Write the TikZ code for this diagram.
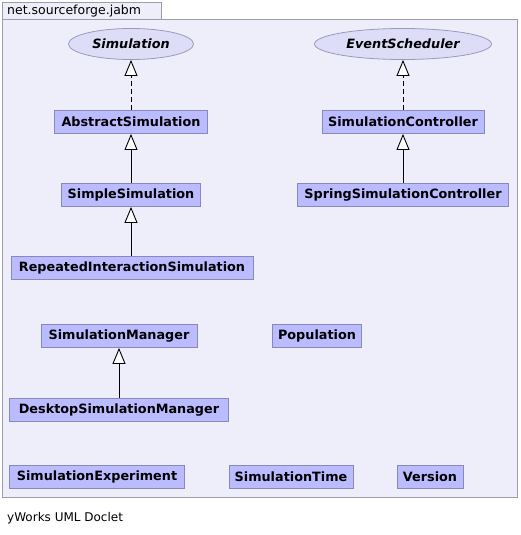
\documentclass[tikz,border=0pt]{standalone}
\usepackage{fontspec}
\setmainfont{DejaVu Sans}
\usetikzlibrary{arrows.meta,shapes.geometric}
\definecolor{pkgfill}{HTML}{EEEEFA}
\definecolor{pkgline}{HTML}{9C9CAC}
\definecolor{clsfill}{HTML}{BBBBFF}
\definecolor{clsline}{HTML}{8888BB}
\definecolor{ifill}{HTML}{DDDDF8}
\definecolor{iline}{HTML}{9999BB}
\tikzset{
  cls/.style={draw=clsline, fill=clsfill, line width=0.8pt, inner sep=0pt, minimum height=23pt, font=\fontsize{12.8}{14}\selectfont\bfseries},
  iface/.style={ellipse, draw=iline, fill=ifill, line width=0.8pt, inner sep=0pt, minimum height=31pt, font=\fontsize{12.8}{14}\selectfont\bfseries\itshape},
  gen/.style={-{Triangle[open, length=16pt, width=13pt, fill=white]}, line width=0.9pt, black},
  real/.style={gen, dash pattern=on 5pt off 3pt},
}
\begin{document}
\begin{tikzpicture}[x=1pt,y=-1pt]
\useasboundingbox (0,0) rectangle (520,535);
\fill[white] (0,0) rectangle (520,535);
% package frame
\draw[pkgline, fill=pkgfill, line width=0.8pt] (2,2) rectangle (161,19);
\draw[pkgline, fill=pkgfill, line width=0.8pt] (2,19) rectangle (517,497);
\node[anchor=west, inner sep=0pt, font=\fontsize{12.5}{14}\selectfont] (pkg) at (7,11) {net.sourceforge.jabm};
% interfaces
\node[iface, minimum width=125pt] (sim) at (131,44) {Simulation};
\node[iface, minimum width=177pt] (evs) at (403,44) {EventScheduler};
% classes
\node[cls, minimum width=153pt] (abs) at (131,122) {AbstractSimulation};
\node[cls, minimum width=162pt] (ctl) at (403,122) {SimulationController};
\node[cls, minimum width=139pt] (simple) at (131,195) {SimpleSimulation};
\node[cls, minimum width=211pt] (spring) at (403,195) {SpringSimulationController};
\node[cls, minimum width=242pt] (rep) at (132,268) {RepeatedInteractionSimulation};
\node[cls, minimum width=156pt] (mgr) at (119,336) {SimulationManager};
\node[cls, minimum width=89pt] (pop) at (317,336) {Population};
\node[cls, minimum width=219pt] (desk) at (119,410) {DesktopSimulationManager};
\node[cls, minimum width=175pt] (exp) at (97,477) {SimulationExperiment};
\node[cls, minimum width=124pt] (time) at (291,477) {SimulationTime};
\node[cls, minimum width=66pt] (ver) at (430,477) {Version};
% relations
\draw[real] (abs.north) -- (sim.south);
\draw[real] (ctl.north) -- (evs.south);
\draw[gen] (simple.north) -- (abs.south);
\draw[gen] (spring.north) -- (ctl.south);
\draw[gen] (rep.north -| simple.south) -- (simple.south);
\draw[gen] (desk.north) -- (mgr.south);
% caption
\node[anchor=west, inner sep=0pt, font=\fontsize{12}{14}\selectfont] (cap) at (7,518) {yWorks UML Doclet};
\end{tikzpicture}
\end{document}
